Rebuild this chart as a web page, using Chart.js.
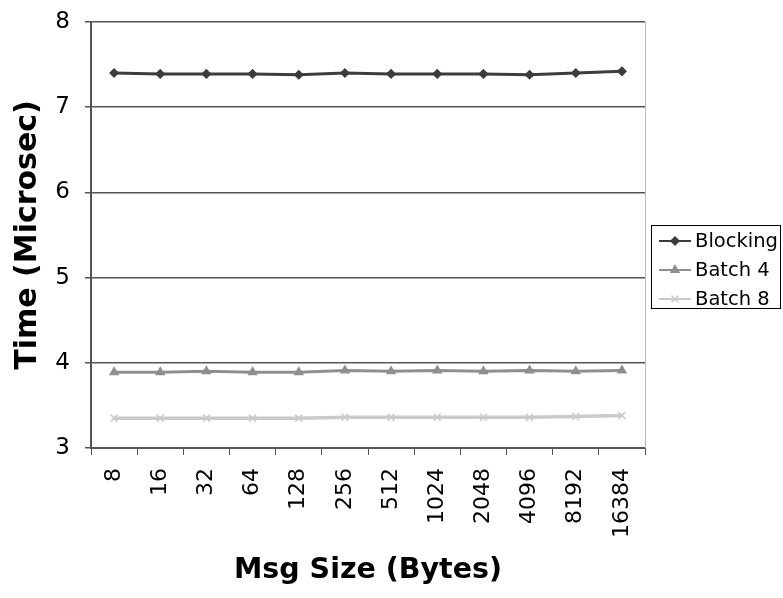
<!DOCTYPE html>
<html>
<head>
<meta charset="utf-8">
<script src="https://cdn.jsdelivr.net/npm/chart.js@4.4.1/dist/chart.umd.min.js"></script>
<style>
  html, body { margin: 0; padding: 0; background: #fff; }
  canvas { display: block; }
</style>
</head>
<body>
<canvas id="latency" width="783" height="598"></canvas>
<script>
// --- data ---------------------------------------------------------------
var msgSizes = ['8', '16', '32', '64', '128', '256', '512', '1024', '2048', '4096', '8192', '16384'];
var blockingTimes = [7.40, 7.39, 7.39, 7.39, 7.38, 7.40, 7.39, 7.39, 7.39, 7.38, 7.40, 7.42];
var batch4Times = [3.89, 3.89, 3.90, 3.89, 3.89, 3.91, 3.90, 3.91, 3.90, 3.91, 3.90, 3.91];
var batch8Times = [3.35, 3.35, 3.35, 3.35, 3.35, 3.36, 3.36, 3.36, 3.36, 3.36, 3.37, 3.38];
var yTicks = [3, 4, 5, 6, 7, 8];

var FONT = "'DejaVu Sans', Verdana, sans-serif";
var AXIS_COLOR = '#555555';

function series(label, data, color, style, radius, width) {
    return {
        label: label,
        data: data,
        borderColor: color,
        backgroundColor: color,
        borderWidth: width,
        pointStyle: style,
        pointRadius: radius,
        pointBorderWidth: 1.5,
        pointBorderColor: color,
        pointBackgroundColor: color,
        tension: 0
    };
}

// legend drawn as a boxed list to the right of the plot
var boxedLegend = {
    id: 'boxedLegend',
    afterDraw: function (chart) {
        var ctx = chart.ctx;
        var area = chart.chartArea;
        ctx.save();

        // thin right edge of the plot area
        ctx.strokeStyle = '#bbbbbb';
        ctx.lineWidth = 1;
        ctx.beginPath();
        ctx.moveTo(area.right + 0.5, area.top);
        ctx.lineTo(area.right + 0.5, area.bottom);
        ctx.stroke();

        var bx = 651, by = 225, bw = 129, bh = 83;
        ctx.strokeStyle = '#000';
        ctx.lineWidth = 1;
        ctx.strokeRect(bx + 0.5, by + 0.5, bw, bh);

        ctx.font = '19.5px ' + FONT;
        ctx.textBaseline = 'middle';
        ctx.textAlign = 'left';
        chart.data.datasets.forEach(function (ds, i) {
            var y = by + 16 + i * 29;
            ctx.strokeStyle = ds.borderColor;
            ctx.fillStyle = ds.borderColor;
            ctx.lineWidth = 2;
            ctx.beginPath();
            ctx.moveTo(bx + 8, y);
            ctx.lineTo(bx + 40, y);
            ctx.stroke();
            ctx.lineWidth = 1.5;
            Chart.helpers.drawPoint(ctx, {pointStyle: ds.pointStyle, radius: ds.pointRadius, borderWidth: 1.5, rotation: 0}, bx + 24, y);
            ctx.fillStyle = '#000';
            ctx.fillText(ds.label, bx + 44, y + 1);
        });
        ctx.restore();
    }
};

var ctx = document.getElementById('latency').getContext('2d');
var chart = new Chart(ctx, {
    type: 'line',
    data: {
        labels: msgSizes,
        datasets: [
            series('Blocking', blockingTimes, '#3c3c3c', 'rectRot', 4, 3),
            series('Batch 4', batch4Times, '#8f8f8f', 'triangle', 4.5, 3),
            series('Batch 8', batch8Times, '#cacaca', 'crossRot', 5, 3.5)
        ]
    },
    options: {
        responsive: false,
        animation: false,
        layout: {padding: {top: 18, right: 138, left: 0, bottom: 0}},
        plugins: {
            legend: {display: false},
            tooltip: {enabled: false}
        },
        scales: {
            x: {
                type: 'category',
                offset: true,
                afterFit: function (scale) { scale.height = 150; },
                grid: {
                    offset: true,
                    drawOnChartArea: false,
                    drawTicks: true,
                    tickLength: 7,
                    color: AXIS_COLOR,
                    lineWidth: 1
                },
                border: {display: true, color: AXIS_COLOR, width: 2},
                ticks: {
                    minRotation: 90,
                    maxRotation: 90,
                    autoSkip: false,
                    padding: 13,
                    color: '#000',
                    font: {family: FONT, size: 22}
                },
                title: {
                    display: true,
                    text: 'Msg Size (Bytes)',
                    color: '#000',
                    font: {family: FONT, size: 28.5, weight: 'bold'},
                    padding: {top: 4, bottom: 10}
                }
            },
            y: {
                min: 3,
                max: 8,
                afterFit: function (scale) { scale.width = 91; },
                afterBuildTicks: function (scale) {
                    scale.ticks = yTicks.map(function (v) { return {value: v}; });
                },
                grid: {
                    color: AXIS_COLOR,
                    lineWidth: 1.5,
                    drawTicks: true,
                    tickLength: 6
                },
                border: {display: true, color: AXIS_COLOR, width: 2},
                ticks: {
                    padding: 15,
                    color: '#000',
                    font: {family: FONT, size: 23, lineHeight: 0.6}
                },
                title: {
                    display: true,
                    text: 'Time (Microsec)',
                    color: '#000',
                    font: {family: FONT, size: 30, weight: 'bold'},
                    padding: {top: 10, bottom: 4}
                }
            }
        }
    },
    plugins: [boxedLegend]
});
</script>
</body>
</html>
